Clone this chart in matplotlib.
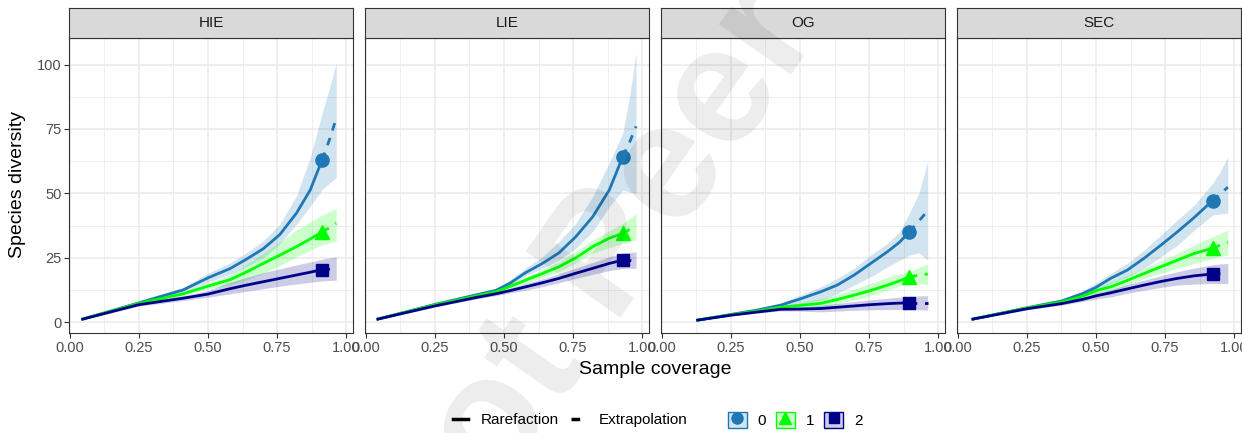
import matplotlib.pyplot as plt
from matplotlib.colors import to_rgb
from matplotlib.lines import Line2D
from matplotlib.patches import Patch
from matplotlib.legend_handler import HandlerTuple

plt.rcParams['font.family'] = ['Liberation Sans', 'DejaVu Sans']

sites = ['HIE', 'LIE', 'OG', 'SEC']
orders = ['0', '1', '2']
colors = ['#1F78B4', '#00FF00', '#00008B']
markers = ['o', '^', 's']

# sample coverage points, index of the observed sample, then diversity (q=0,1,2) with lower/upper CI
hie_x = [0.047, 0.25, 0.41, 0.50, 0.58, 0.64, 0.70, 0.76, 0.82, 0.87, 0.913, 0.94, 0.964]
hie_obs = 10
hie_q0 = [1.2, 7.5, 12.5, 17.2, 20.8, 24.5, 28.5, 34.0, 42.3, 51.3, 63, 71, 79]
hie_q0_lo = [1.0, 6.8, 11.5, 15.5, 18.6, 21.6, 25.0, 30.5, 38, 45, 51.5, 54, 56]
hie_q0_hi = [1.4, 8.3, 13.5, 19, 23.0, 27.0, 31.5, 38, 49, 64, 81, 91, 100.6]
hie_q1 = [1.2, 7.3, 11.0, 14.0, 16.5, 19.5, 22.8, 26, 29.3, 32.3, 35, 36.7, 38.4]
hie_q1_lo = [1.0, 6.8, 10.2, 13.0, 14.4, 16.5, 18.9, 22, 25.4, 28, 30, 30.8, 31.3]
hie_q1_hi = [1.4, 7.9, 11.8, 15.2, 18.3, 22.5, 26.7, 31, 35.8, 39, 41.5, 43, 44]
hie_q2 = [1.2, 6.8, 9.3, 10.9, 13.0, 14.4, 15.7, 17.0, 18.3, 19.4, 20.4, 20.5, 20.6]
hie_q2_lo = [1.0, 6.2, 8.4, 9.7, 11.0, 12.0, 13.0, 14.0, 14.8, 15.5, 16.0, 16.2, 16.3]
hie_q2_hi = [1.4, 7.4, 10.2, 12.3, 15.6, 17.4, 19.2, 20.7, 22.2, 23.4, 24.4, 25, 25.4]

lie_x = [0.044, 0.25, 0.40, 0.47, 0.52, 0.578, 0.639, 0.699, 0.76, 0.821, 0.881, 0.93, 0.955, 0.978]
lie_obs = 11
lie_q0 = [1.2, 6.9, 10.6, 12.3, 15, 19.2, 22.8, 26.9, 33.2, 40.9, 51.3, 64.3, 70, 76]
lie_q0_lo = [1.0, 6.4, 9.9, 11.5, 14, 18.0, 20.9, 24.1, 28.7, 35.2, 44.9, 51.3, 50.5, 50]
lie_q0_hi = [1.4, 7.4, 11.3, 13.1, 16.2, 21.0, 25.4, 31.3, 38.4, 48.8, 61.8, 73.4, 88, 104.5]
lie_q1 = [1.2, 6.7, 10.2, 11.8, 13.8, 16.3, 18.9, 21.5, 25, 29.3, 32.6, 34.5, 36, 37.7]
lie_q1_lo = [1.0, 6.3, 9.6, 11.1, 12.8, 15, 17.2, 19.6, 23, 26.7, 29, 30.6, 31.3, 31.9]
lie_q1_hi = [1.4, 7.1, 10.8, 12.5, 14.8, 17.6, 20.5, 23.5, 27.5, 31.9, 35.5, 38.4, 40.3, 42.2]
lie_q2 = [1.2, 6.3, 9.6, 11, 12.2, 13.7, 15.3, 17, 19, 20.9, 22.8, 24.1, 24.1, 24.1]
lie_q2_lo = [1.0, 5.9, 9.0, 10.3, 11.3, 12.4, 13.8, 15.3, 17, 18.6, 20, 20.8, 20.9, 20.9]
lie_q2_hi = [1.4, 6.7, 10.2, 11.7, 13.1, 15, 16.8, 18.8, 21, 23.2, 25.4, 26.8, 27.1, 27.3]

og_x = [0.13, 0.25, 0.35, 0.43, 0.50, 0.575, 0.635, 0.696, 0.756, 0.817, 0.86, 0.896, 0.93, 0.962]
og_obs = 11
og_q0 = [0.8, 3.0, 4.8, 6.6, 9.0, 11.8, 14.4, 18.3, 22.8, 27.4, 31.0, 35.1, 39.2, 43.3]
og_q0_lo = [0.6, 2.7, 4.3, 5.8, 7.0, 8.6, 11.1, 14.4, 17.6, 21.5, 24.0, 26.0, 27.0, 24.1]
og_q0_hi = [1.0, 3.3, 5.3, 7.4, 10.5, 13.7, 17.0, 20.9, 26.1, 30.6, 35, 42.3, 50, 62.4]
og_q1 = [0.8, 2.9, 4.4, 5.8, 6.5, 7.3, 8.8, 10.5, 12.3, 14.4, 16, 17.6, 18.2, 18.7]
og_q1_lo = [0.6, 2.6, 4.0, 5.2, 5.6, 6.0, 7.2, 8.7, 10.3, 12.4, 14, 15.7, 15.1, 14.4]
og_q1_hi = [1.0, 3.2, 4.8, 6.4, 7.6, 9.2, 10.8, 12.8, 15, 17.6, 18.7, 19.6, 21.2, 22.8]
og_q2 = [0.8, 2.7, 4.0, 5.0, 5.1, 5.3, 5.8, 6.3, 6.8, 7.2, 7.4, 7.5, 7.5, 7.5]
og_q2_lo = [0.6, 2.4, 3.6, 4.4, 4.3, 4.0, 4.3, 4.6, 4.8, 4.9, 4.9, 4.8, 4.8, 4.7]
og_q2_hi = [1.0, 3.0, 4.4, 5.6, 5.9, 6.6, 7.3, 8.0, 8.7, 9.3, 9.7, 10.0, 10.2, 10.3]

sec_x = [0.055, 0.25, 0.375, 0.45, 0.50, 0.553, 0.613, 0.674, 0.735, 0.795, 0.856, 0.922, 0.95, 0.977]
sec_obs = 11
sec_q0 = [1.2, 5.6, 8.2, 11.0, 13.5, 17.0, 20.2, 24.8, 29.9, 35.1, 40.7, 47.2, 49.8, 52.4]
sec_q0_lo = [1.0, 5.2, 7.5, 9.8, 11.8, 15.0, 17.6, 20.9, 25.4, 29.9, 35.8, 41.6, 42, 42.3]
sec_q0_hi = [1.4, 6.0, 8.9, 12.2, 15.2, 18.9, 22.8, 28.0, 33.8, 39.7, 45.5, 53.9, 58.5, 64.3]
sec_q1 = [1.2, 5.5, 7.8, 10.0, 12.2, 13.7, 16.2, 18.9, 21.5, 24.1, 26.7, 28.7, 29.9, 31.0]
sec_q1_lo = [1.0, 5.1, 7.2, 9.0, 10.4, 11.8, 14.3, 17.0, 19.0, 20.9, 22.8, 24.8, 25.5, 26.1]
sec_q1_hi = [1.4, 5.9, 8.4, 11.0, 13.1, 15.7, 18.2, 20.9, 23.8, 26.7, 30, 33.2, 34.5, 35.8]
sec_q2 = [1.2, 5.2, 7.2, 8.8, 10.2, 11.4, 12.9, 14.4, 15.8, 17.0, 18.0, 18.7, 18.8, 18.9]
sec_q2_lo = [1.0, 4.8, 6.6, 8.0, 9.0, 9.8, 11.2, 12.4, 13.5, 14.4, 14.8, 15.0, 15.0, 15.0]
sec_q2_hi = [1.4, 5.6, 7.8, 9.6, 11.4, 12.7, 14.6, 16.3, 18.0, 19.6, 21.0, 22.3, 22.6, 22.8]

panels = {
    'HIE': (hie_x, hie_obs, [(hie_q0, hie_q0_lo, hie_q0_hi), (hie_q1, hie_q1_lo, hie_q1_hi), (hie_q2, hie_q2_lo, hie_q2_hi)]),
    'LIE': (lie_x, lie_obs, [(lie_q0, lie_q0_lo, lie_q0_hi), (lie_q1, lie_q1_lo, lie_q1_hi), (lie_q2, lie_q2_lo, lie_q2_hi)]),
    'OG': (og_x, og_obs, [(og_q0, og_q0_lo, og_q0_hi), (og_q1, og_q1_lo, og_q1_hi), (og_q2, og_q2_lo, og_q2_hi)]),
    'SEC': (sec_x, sec_obs, [(sec_q0, sec_q0_lo, sec_q0_hi), (sec_q1, sec_q1_lo, sec_q1_hi), (sec_q2, sec_q2_lo, sec_q2_hi)]),
}

W, H = 1242, 433
fig = plt.figure(figsize=(W / 100, H / 100), dpi=100)

for i, site in enumerate(sites):
    left = 69 + i * 296
    ax = fig.add_axes([left / W, 1 - 333 / H, 284 / W, 295 / H])
    x, obs, series = panels[site]

    for k in range(3):
        y, lo, hi = series[k]
        ax.fill_between(x, lo, hi, color=colors[k], alpha=0.2, lw=0)
    for k in range(3):
        y, lo, hi = series[k]
        ax.plot(x[:obs + 1], y[:obs + 1], color=colors[k], lw=2, solid_joinstyle='round')
        ax.plot(x[obs:], y[obs:], color=colors[k], lw=2, ls=(0, (2.8, 2.8)))
        ax.plot(x[obs], y[obs], marker=markers[k], color=colors[k], ms=9.5 if k < 2 else 8.5, ls='')

    ax.set_xlim(-0.0027, 1.0247)
    ax.set_ylim(-4.2, 110.3)
    ax.set_xticks([0, 0.25, 0.5, 0.75, 1.0])
    ax.set_xticklabels(['0.00', '0.25', '0.50', '0.75', '1.00'])
    ax.set_xticks([0.125, 0.375, 0.625, 0.875], minor=True)
    ax.set_yticks([0, 25, 50, 75, 100])
    ax.set_yticks([12.5, 37.5, 62.5, 87.5], minor=True)
    ax.grid(which='major', color='#EBEBEB', lw=1.1)
    ax.grid(which='minor', color='#EBEBEB', lw=0.55)
    ax.set_axisbelow(True)
    ax.tick_params(which='major', length=3.5, width=0.8, color='#333333', labelsize=10.5, labelcolor='#4D4D4D', pad=2)
    ax.tick_params(which='minor', length=0)
    if i > 0:
        ax.tick_params(axis='y', left=False, labelleft=False)
    for s in ax.spines.values():
        s.set_color('#333333')
        s.set_linewidth(0.8)

    # facet strip
    strip = fig.add_axes([left / W, 1 - 38 / H, 284 / W, 30 / H])
    strip.set_facecolor('#D9D9D9')
    strip.set_xticks([])
    strip.set_yticks([])
    for s in strip.spines.values():
        s.set_color('#333333')
        s.set_linewidth(0.8)
    strip.text(0.5, 0.5, site, ha='center', va='center', fontsize=11, color='#1A1A1A', transform=strip.transAxes)

fig.text(18 / W, 1 - 185 / H, 'Species diversity', rotation=90, ha='center', va='center', fontsize=14)
fig.text(655 / W, 1 - 370 / H, 'Sample coverage', ha='center', va='center', fontsize=14)

# legends
line_handles = [Line2D([], [], color='black', lw=2.5),
                Line2D([], [], color='black', lw=2.5, ls=(0, (2.5, 2)))]
leg1 = fig.legend(line_handles, ['Rarefaction', 'Extrapolation'], ncol=2, frameon=False,
                  loc='center', bbox_to_anchor=(570 / W, 1 - 420 / H), fontsize=11,
                  handlelength=1.0, handletextpad=0.8, columnspacing=0.8)

order_handles = []
for k in range(3):
    box = Patch(facecolor=(*to_rgb(colors[k]), 0.2), edgecolor=colors[k], lw=1)
    mk = Line2D([], [], marker=markers[k], color=colors[k], ms=8 if k < 2 else 7.5, ls='')
    order_handles.append((box, mk))
leg2 = fig.legend(order_handles, orders, ncol=3, frameon=False,
                  loc='center', bbox_to_anchor=(795 / W, 1 - 420 / H), fontsize=11,
                  handlelength=1.25, handleheight=1.25, handletextpad=0.7, columnspacing=0.65,
                  handler_map={tuple: HandlerTuple(ndivide=1, pad=0)})

# watermark
fig.text(429 / W, 1 - 592 / H, 'Not Peer Reviewed', rotation=55, rotation_mode='anchor',
         ha='left', va='baseline', fontsize=120, fontweight='bold', color='black', alpha=0.075)

plt.savefig('out.png', dpi=100)
